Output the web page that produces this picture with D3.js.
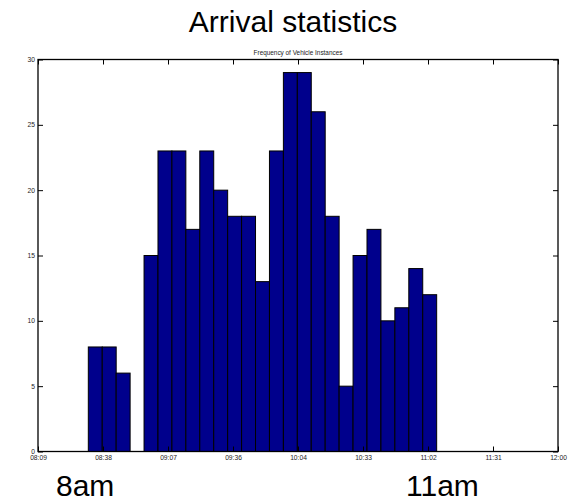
<!DOCTYPE html>
<html>
<head>
<meta charset="utf-8">
<script src="https://cdn.jsdelivr.net/npm/d3@7"></script>
<style>
  body { margin:0; background:#fff; }
  svg { font-family: Arial, "Liberation Sans", sans-serif; }
  .tick text { fill:#222; }
</style>
</head>
<body>
<div id="chart"></div>
<script>
// histogram counts, one per bin
let counts = [8,8,6,0,15,23,23,17,23,20,18,18,13,23,29,29,26,18,5,15,17,10,11,14,12];
// first bin edge and last bin edge (hh:mm:ss)
let binRange = ['08:31:21','11:06:06'];
let xDomain = ['08:09:00','12:00:00'];
let xTickLabels = ['08:09','08:38','09:07','09:36','10:04','10:33','11:02','11:31','12:00'];
let yTicks = [0,5,10,15,20,25,30];

let sizes = {width:572, height:501, left:38, right:558, top:59.5, bottom:451.5};

function toMin(s) {
    let p = s.split(':').map(Number);
    return p[0]*60 + p[1] + (p[2] || 0)/60;
}

let svg = d3.select('#chart').append('svg')
    .attr('width', sizes.width)
    .attr('height', sizes.height);

let x = d3.scaleLinear()
    .domain(xDomain.map(toMin))
    .range([sizes.left, sizes.right]);
let y = d3.scaleLinear()
    .domain([0,30])
    .range([sizes.bottom, sizes.top]);

// bin edges
let b0 = toMin(binRange[0]), b1 = toMin(binRange[1]);
let bw = (b1 - b0) / counts.length;
let bins = counts.map((c,i) => ({x0: b0 + i*bw, x1: b0 + (i+1)*bw, n: c}));

svg.append('g').selectAll('rect')
    .data(bins)
    .enter().append('rect')
    .attr('x', d => x(d.x0))
    .attr('width', d => x(d.x1) - x(d.x0))
    .attr('y', d => y(d.n))
    .attr('height', d => y(0) - y(d.n))
    .attr('fill', '#00008c')
    .attr('stroke', '#000')
    .attr('stroke-width', 1);

// tick positions for the time axis: evenly spread over the domain
let xd = x.domain();
let xTickVals = xTickLabels.map((t,i) => xd[0] + i*(xd[1]-xd[0])/(xTickLabels.length-1));

// axes, MATLAB style: ticks pointing inward on all four sides
let bottomAxis = d3.axisBottom(x).tickValues(xTickVals)
    .tickFormat((d,i) => xTickLabels[i]).tickSizeInner(-5).tickSizeOuter(0).tickPadding(4);
let topAxis = d3.axisTop(x).tickValues(xTickVals)
    .tickFormat('').tickSizeInner(-5).tickSizeOuter(0);
let leftAxis = d3.axisLeft(y).tickValues(yTicks)
    .tickSizeInner(-5).tickSizeOuter(0).tickPadding(3);
let rightAxis = d3.axisRight(y).tickValues(yTicks)
    .tickFormat('').tickSizeInner(-5).tickSizeOuter(0);

function styleAxis(g) {
    g.selectAll('.domain').remove();
    g.selectAll('line').attr('stroke','#000');
    g.selectAll('text').attr('font-size','6.7px').attr('font-family','Arial, "Liberation Sans", sans-serif');
}

svg.append('g').attr('transform',`translate(0,${sizes.bottom})`).call(bottomAxis).call(styleAxis)
    .selectAll('text').attr('dy','0.6em');
svg.append('g').attr('transform',`translate(0,${sizes.top})`).call(topAxis).call(styleAxis);
svg.append('g').attr('transform',`translate(${sizes.left},0)`).call(leftAxis).call(styleAxis);
svg.append('g').attr('transform',`translate(${sizes.right},0)`).call(rightAxis).call(styleAxis);

// frame
svg.append('rect')
    .attr('x', sizes.left).attr('y', sizes.top)
    .attr('width', sizes.right - sizes.left)
    .attr('height', sizes.bottom - sizes.top)
    .attr('fill','none')
    .attr('stroke','#000')
    .attr('stroke-width',1.3);

// titles
svg.append('text')
    .attr('x', 293).attr('y', 32)
    .attr('text-anchor','middle')
    .attr('font-size','30px')
    .text('Arrival statistics');
svg.append('text')
    .attr('x', (sizes.left + sizes.right)/2).attr('y', 54.5)
    .attr('text-anchor','middle')
    .attr('font-size','6.4px')
    .attr('fill','#222')
    .text('Frequency of Vehicle Instances');

// labels under the axis
svg.append('text').attr('x', 56).attr('y', 496).attr('font-size','30px').text('8am');
svg.append('text').attr('x', 406).attr('y', 496).attr('font-size','30px').text('11am');
</script>
</body>
</html>
